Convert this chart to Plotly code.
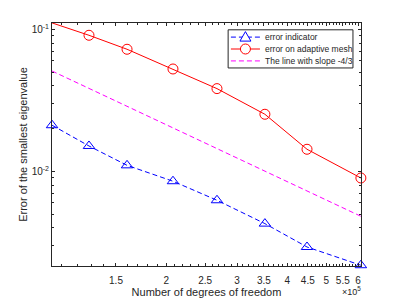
import plotly.graph_objects as go

dof = [1.04e5, 1.285e5, 1.598e5, 2.079e5, 2.675e5, 3.52e5, 4.48e5, 6.10e5]
err_indicator = [0.0211, 0.01507, 0.01101, 0.00851, 0.00625, 0.00428, 0.00293, 0.00218]
err_adaptive = [0.1108, 0.0907, 0.0723, 0.0525, 0.0382, 0.0252, 0.01429, 0.00897]
slope_x = [1.04e5, 6.10e5]
slope_y = [0.0508, 0.00482]

series_names = ["error indicator", "error on adaptive mesh", "The line with slope -4/3"]
x_tickvals = [1.5e5, 2e5, 2.5e5, 3e5, 3.5e5, 4e5, 4.5e5, 5e5, 5.5e5, 6e5]
x_ticktext = ["1.5", "2", "2.5", "3", "3.5", "4", "4.5", "5", "5.5", "6"]
x_minor = [v * 1e4 for v in range(11, 62)]
y_tickvals = [0.01, 0.1]
y_ticktext = ["10<sup>-2</sup>", "10<sup>-1</sup>"]
y_minor = [0.003, 0.004, 0.005, 0.006, 0.007, 0.008, 0.009,
           0.02, 0.03, 0.04, 0.05, 0.06, 0.07, 0.08, 0.09]

BLUE, RED, MAG, AX = "#0000ff", "#ff0000", "#ff00ff", "#262626"
FONT = "Liberation Sans, Arial, sans-serif"
DASH = "5px,3px"

fig = go.Figure()
fig.add_trace(go.Scatter(
    x=dof, y=err_indicator, name=series_names[0], mode="lines+markers", cliponaxis=False,
    line=dict(color=BLUE, width=1, dash=DASH),
    marker=dict(symbol="triangle-up-open", size=10, color=BLUE, line=dict(width=1))))
fig.add_trace(go.Scatter(
    x=dof, y=err_adaptive, name=series_names[1], mode="lines+markers", cliponaxis=False,
    line=dict(color=RED, width=1),
    marker=dict(symbol="circle-open", size=10, color=RED, line=dict(width=1))))
fig.add_trace(go.Scatter(
    x=slope_x, y=slope_y, name=series_names[2], mode="lines",
    line=dict(color=MAG, width=1, dash=DASH)))

axis_common = dict(
    showline=True, linecolor=AX, linewidth=1, mirror="ticks", automargin=False,
    ticks="inside", ticklen=3, tickcolor=AX, showgrid=False, zeroline=False,
    tickfont=dict(family=FONT, size=10, color=AX),
)

fig.update_xaxes(
    type="log", range=[5.0169, 5.7856],
    tickvals=x_tickvals, ticktext=x_ticktext, ticklabelstandoff=5,
    minor=dict(tickvals=x_minor, ticks="inside", ticklen=2, tickcolor=AX),
    title=dict(text="Number of degrees of freedom", standoff=1,
               font=dict(family=FONT, size=11, color=AX)),
    **axis_common)
fig.update_yaxes(
    type="log", range=[-2.667, -0.956],
    tickvals=y_tickvals, ticktext=y_ticktext,
    minor=dict(tickvals=y_minor, ticks="inside", ticklen=2, tickcolor=AX),
    title=dict(text="Error of the smallest eigenvalue", standoff=1,
               font=dict(family=FONT, size=11, color=AX)),
    **axis_common)

fig.add_annotation(
    x=1, y=0, xref="paper", yref="paper", xanchor="right", yanchor="top",
    yshift=-17, xshift=2, showarrow=False,
    text="×10<sup>5</sup>",
    font=dict(family=FONT, size=9, color=AX))

# custom compact legend (MATLAB style)
box = dict(x0=0.570, x1=0.974, y0=0.815, y1=0.972)
fig.add_shape(type="rect", xref="paper", yref="paper", **box,
              line=dict(color=AX, width=1), fillcolor="white", layer="above")
rows = [0.942, 0.893, 0.844]
styles = [(BLUE, DASH), (RED, "solid"), (MAG, DASH)]
for ry, (col, dash), name in zip(rows, styles, series_names):
    fig.add_shape(type="line", xref="paper", yref="paper", x0=0.579, x1=0.673,
                  y0=ry, y1=ry, line=dict(color=col, width=1, dash=dash), layer="above")
    fig.add_annotation(x=0.682, y=ry, xref="paper", yref="paper", xanchor="left",
                       yanchor="middle", showarrow=False, text=name,
                       font=dict(family=FONT, size=8.5, color=AX))
# legend markers
fig.add_shape(type="path", xref="paper", yref="paper", xsizemode="pixel", ysizemode="pixel",
              xanchor=0.626, yanchor=rows[0], path="M -5.5 -4 L 5.5 -4 L 0 5.5 Z",
              line=dict(color=BLUE, width=1), fillcolor="white", layer="above")
fig.add_shape(type="circle", xref="paper", yref="paper", xsizemode="pixel", ysizemode="pixel",
              xanchor=0.626, yanchor=rows[1], x0=-5, x1=5, y0=-5, y1=5,
              line=dict(color=RED, width=1), fillcolor="white", layer="above")

# page body has an 8px default margin: size the figure so the plot area lands where it should
fig.update_layout(
    width=390, height=291,
    margin=dict(l=44, r=37, t=15, b=33),
    paper_bgcolor="white", plot_bgcolor="white",
    showlegend=False,
)

fig.write_html("out.html")
